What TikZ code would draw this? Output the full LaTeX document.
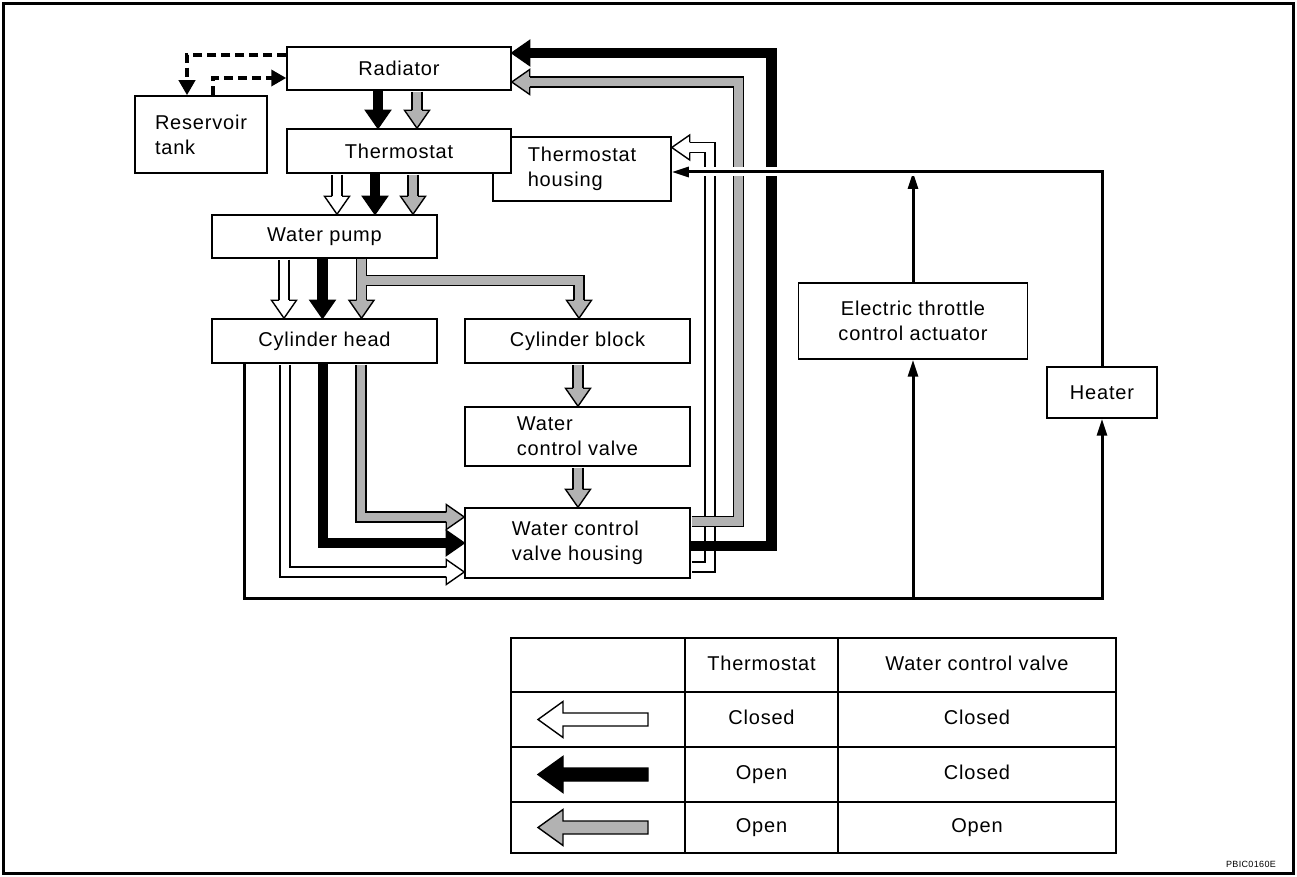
\documentclass[tikz,border=0pt]{standalone}
\usepackage{fontspec}
\setmainfont{Liberation Sans}[LetterSpace=4.0]
\usetikzlibrary{arrows.meta,calc}
\tikzstyle{compbox} = [draw=black, line width=0.75pt, fill=white, inner sep=0pt, font={\fontsize{10}{12.5}\selectfont}]
\tikzstyle{keytext} = [text height=7.2pt, text depth=2pt, font={\fontsize{10}{12.5}\selectfont}]
\tikzstyle{wband} = [draw=black, line width=0.7pt, double=white, double distance=4.3pt, shorten <=0.4pt, shorten >=8.5pt]
\tikzstyle{sband} = [wband, double=black!30]
\tikzstyle{kband} = [draw=black, line width=5.4pt, shorten >=8.5pt]
\tikzstyle{pipe} = [line width=1.5pt, -{Triangle[length=8.5pt,width=5pt]}]
\tikzstyle{overflow} = [line width=1.8pt, dash pattern=on 4.5pt off 2.5pt, -{Triangle[length=7.5pt,width=8pt]}]
\tikzset{
  pics/fhead/.style={code={\filldraw[line width=0.7pt,fill=#1] (-9pt,2.5pt) -- (-9pt,6.25pt) -- (0,0) -- (-9pt,-6.25pt) -- (-9pt,-2.5pt);}},
  pics/keyarrow/.style={code={\filldraw[line width=0.7pt,fill=#1] (0,0) -- (12.5pt,9pt) -- (12.5pt,3.25pt) -- (55pt,3.25pt) -- (55pt,-3.25pt) -- (12.5pt,-3.25pt) -- (12.5pt,-9pt) -- cycle;}}
}
\begin{document}
\begin{tikzpicture}[x=0.5pt,y=-0.5pt]
        \useasboundingbox (0,0) rectangle (1297,877);
        \draw[line width=1.5pt] (3.5,3.5) rectangle (1293.5,873.5);
        \node[compbox,minimum width=66pt,minimum height=38.5pt,align=left](res) at (201,134.5){Reservoir\\tank};
        \node[compbox,minimum width=112pt,minimum height=21.5pt](rad) at (399,68.5){Radiator};
        \node[compbox,minimum width=89pt,minimum height=32pt,align=left](thhous) at (582,169){Thermostat\\housing};
        \node[compbox,minimum width=112pt,minimum height=22pt](therm) at (399,151){Thermostat};
        \node[compbox,minimum width=112.5pt,minimum height=21.5pt](pump) at (324.5,236.5){Water pump};
        \node[compbox,minimum width=112.5pt,minimum height=22pt](head) at (324.5,341){Cylinder head};
        \node[compbox,minimum width=112.5pt,minimum height=22pt](block) at (577.5,341){Cylinder block};
        \node[compbox,minimum width=112.5pt,minimum height=29.5pt,align=left](wcv) at (577.5,436.5){Water\\control valve};
        \node[compbox,minimum width=112.5pt,minimum height=35pt,align=left](wcvh) at (577.5,543){Water control\\valve housing};
        \node[compbox,minimum width=114.5pt,minimum height=38pt,align=center](etc) at (913,321){Electric throttle\\control actuator};
        \node[compbox,minimum width=55pt,minimum height=25.5pt](heater) at (1102,392.5){Heater};
        \draw[overflow] (rad.west |- 0,55) -- (187,55) -- (187,0 |- res.north);
        \draw[overflow] (213,0 |- res.north) -- (213,78) -- (rad.west |- 0,78);
        \draw[kband] (378,0 |- rad.south) -- (378,0 |- therm.north);
        \pic[rotate=-90] at (378,0 |- therm.north) {fhead=black};
        \draw[sband] (417,0 |- rad.south) -- (417,0 |- therm.north);
        \pic[rotate=-90] at (417,0 |- therm.north) {fhead=black!30};
        \draw[wband] (337,0 |- therm.south) -- (337,0 |- pump.north);
        \pic[rotate=-90] at (337,0 |- pump.north) {fhead=white};
        \draw[kband] (375,0 |- therm.south) -- (375,0 |- pump.north);
        \pic[rotate=-90] at (375,0 |- pump.north) {fhead=black};
        \draw[sband] (413,0 |- therm.south) -- (413,0 |- pump.north);
        \pic[rotate=-90] at (413,0 |- pump.north) {fhead=black!30};
        \draw[wband] (284,0 |- pump.south) -- (284,0 |- head.north);
        \pic[rotate=-90] at (284,0 |- head.north) {fhead=white};
        \draw[kband] (322.5,0 |- pump.south) -- (322.5,0 |- head.north);
        \pic[rotate=-90] at (322.5,0 |- head.north) {fhead=black};
        \draw[sband,shorten <=0pt] (361.5,0 |- pump.south) -- ($(361.5,0 |- head.north)+(0,8.5pt)$) (361.5,280.5) -- (579,280.5) -- (579,0 |- block.north);
        \pic[rotate=-90] at (361.5,0 |- head.north) {fhead=black!30};
        \pic[rotate=-90] at (579,0 |- block.north) {fhead=black!30};
        \draw[sband] (578,0 |- block.south) -- (578,0 |- wcv.north);
        \pic[rotate=-90] at (578,0 |- wcv.north) {fhead=black!30};
        \draw[sband] (578,0 |- wcv.south) -- (578,0 |- wcvh.north);
        \pic[rotate=-90] at (578,0 |- wcvh.north) {fhead=black!30};
        \draw[wband] (285,0 |- head.south) -- (285,572) -- (wcvh.west |- 0,572);
        \pic at (wcvh.west |- 0,572) {fhead=white};
        \draw[kband] (323,0 |- head.south) -- (323,543) -- (wcvh.west |- 0,543);
        \pic at (wcvh.west |- 0,543) {fhead=black};
        \draw[sband] (361,0 |- head.south) -- (361,517) -- (wcvh.west |- 0,517);
        \pic at (wcvh.west |- 0,517) {fhead=black!30};
        \draw[wband] (wcvh.east |- 0,567) -- (710,567) -- (710,147.5) -- (thhous.east |- 0,147.5);
        \pic[rotate=180] at (thhous.east |- 0,147.5) {fhead=white};
        \draw[sband] (wcvh.east |- 0,521.5) -- (738.5,521.5) -- (738.5,82) -- (rad.east |- 0,82);
        \pic[rotate=180] at (rad.east |- 0,82) {fhead=black!30};
        \draw[kband] (wcvh.east |- 0,546) -- (771.5,546) -- (771.5,53) -- (rad.east |- 0,53);
        \pic[rotate=180] at (rad.east |- 0,53) {fhead=black};
        \coordinate (loopL) at (244,598);
        \coordinate (loopE) at (913,598);
        \coordinate (loopR) at (1102,598);
        \coordinate (topE) at (913,172);
        \coordinate (topR) at (1102,172);
        \draw[pipe] (loopL |- head.south) -- (loopL) -- (loopR) -- (heater.south);
        \draw[pipe] (loopE) -- (etc.south);
        \draw[pipe] (etc.north) -- (topE);
        \draw[pipe,preaction={draw=white,line width=4.5pt,-,shorten <=2pt,shorten >=12pt}] (heater.north) -- (topR) -- (thhous.east |- topR);
        \draw[line width=0.75pt] (511,638) rectangle (1116,853);
        \draw[line width=0.75pt] (511,692) -- (1116,692) (511,747) -- (1116,747) (511,802) -- (1116,802) (685,638) -- (685,853) (838,638) -- (838,853);
        \node[keytext](hdth) at (761.5,665){Thermostat};
        \node[keytext](hdwcv) at (977,665){Water control valve};
        \node[keytext](th1) at (761.5,719.5){Closed};
        \node[keytext](wcv1) at (977,719.5){Closed};
        \node[keytext](th2) at (761.5,774.5){Open};
        \node[keytext](wcv2) at (977,774.5){Closed};
        \node[keytext](th3) at (761.5,827.5){Open};
        \node[keytext](wcv3) at (977,827.5){Open};
        \pic at (538,719.5) {keyarrow=white};
        \pic at (538,774.5) {keyarrow=black};
        \pic at (538,827.5) {keyarrow=black!30};
        \node[font={\fontsize{4.5}{5}\selectfont},anchor=east](code) at (1283,864){PBIC0160E};
      \end{tikzpicture}
\end{document}
